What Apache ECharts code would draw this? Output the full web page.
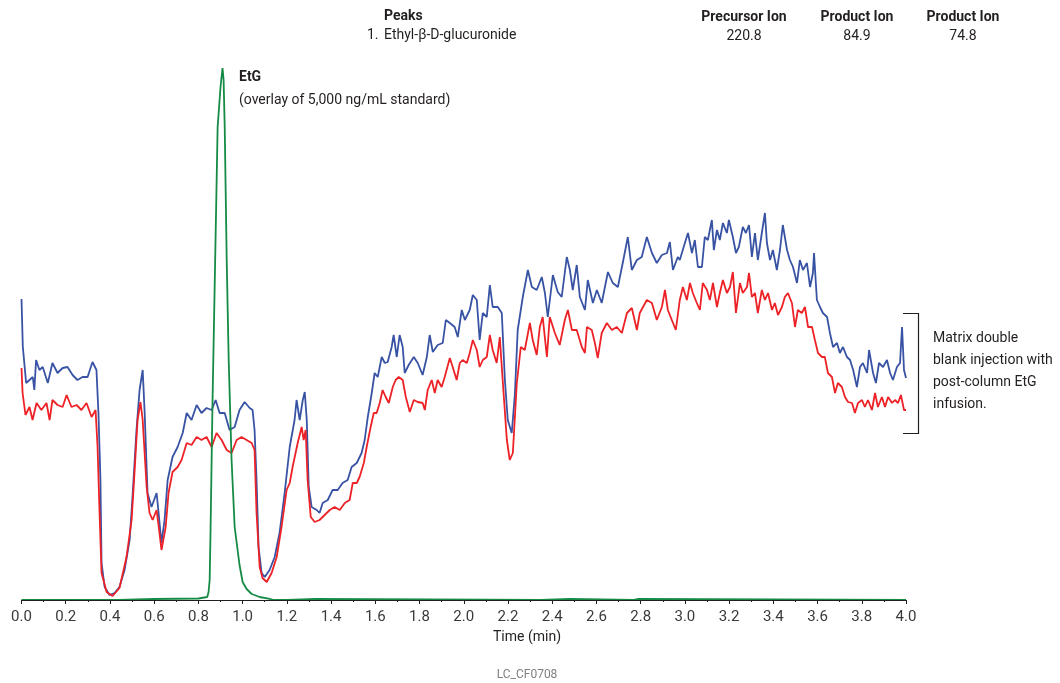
<!DOCTYPE html>
<html>
<head>
<meta charset="utf-8">
<script src="https://cdn.jsdelivr.net/npm/echarts@6/dist/echarts.min.js"></script>
<style>
html,body{margin:0;padding:0;background:#fff;}
#chart{width:1060px;height:683px;}
</style>
</head>
<body>
<div id="chart"></div>
<script>
// ---- Data (time in min, signal in arbitrary intensity units) ----
const xTicks = [0.0,0.2,0.4,0.6,0.8,1.0,1.2,1.4,1.6,1.8,2.0,2.2,2.4,2.6,2.8,3.0,3.2,3.4,3.6,3.8,4.0];

const blueTrace = [
[0.000,301],[0.006,253],[0.021,217],[0.036,220],[0.051,223],[0.058,210],[0.066,240],[0.081,230],[0.096,233],[0.119,217],[0.140,237],[0.163,227],[0.186,232],[0.208,233],[0.231,225],[0.253,220],[0.276,223],[0.299,223],[0.321,238],[0.339,230],[0.348,187],[0.357,120],[0.362,37],[0.376,13],[0.398,5],[0.421,7],[0.443,13],[0.466,30],[0.489,60],[0.502,103],[0.520,170],[0.534,210],[0.548,230],[0.557,187],[0.570,107],[0.588,93],[0.611,107],[0.620,87],[0.633,57],[0.647,80],[0.661,120],[0.683,143],[0.706,153],[0.729,167],[0.747,187],[0.769,180],[0.792,195],[0.814,187],[0.837,192],[0.860,190],[0.878,200],[0.896,187],[0.919,187],[0.941,170],[0.964,173],[0.986,190],[1.009,198],[1.032,192],[1.045,190],[1.054,170],[1.063,120],[1.072,53],[1.086,27],[1.100,23],[1.122,30],[1.145,43],[1.167,67],[1.190,107],[1.213,153],[1.235,180],[1.244,200],[1.258,180],[1.272,200],[1.281,208],[1.290,180],[1.299,113],[1.312,93],[1.335,90],
[1.348,87],[1.362,97],[1.385,100],[1.407,110],[1.430,110],[1.452,117],[1.475,120],[1.493,133],[1.516,137],[1.538,147],[1.552,160],[1.566,183],[1.584,207],[1.597,227],[1.611,223],[1.629,243],[1.643,237],[1.656,238],[1.674,253],[1.683,265],[1.697,243],[1.710,265],[1.724,253],[1.733,227],[1.751,235],[1.774,243],[1.792,237],[1.814,225],[1.833,243],[1.846,265],[1.860,248],[1.882,255],[1.905,257],[1.919,280],[1.937,277],[1.959,273],[1.973,263],[1.991,290],[2.005,280],[2.027,290],[2.041,305],[2.059,300],[2.072,260],[2.086,287],[2.104,283],[2.118,315],[2.131,293],[2.154,293],[2.172,287],[2.186,220],[2.199,180],[2.217,167],[2.231,205],
[2.244,270],[2.267,303],[2.290,330],[2.308,313],[2.330,310],[2.353,323],[2.367,307],[2.380,283],[2.403,325],[2.425,308],[2.443,303],[2.466,343],[2.480,330],[2.493,310],[2.511,335],[2.525,303],[2.548,290],[2.561,320],[2.584,297],[2.602,310],[2.624,297],[2.652,328],[2.674,317],[2.697,313],[2.719,337],[2.742,363],[2.760,330],[2.783,340],[2.805,343],[2.828,363],[2.851,347],[2.873,337],[2.896,345],[2.919,347],[2.932,358],[2.946,330],[2.968,343],
[2.977,340],[3.000,357],[3.014,367],[3.032,347],[3.045,360],[3.059,333],[3.077,333],[3.090,363],[3.104,360],[3.122,380],[3.131,350],[3.145,370],[3.158,360],[3.172,377],[3.190,367],[3.199,380],[3.217,363],[3.231,347],[3.244,353],[3.262,373],[3.276,367],[3.290,375],[3.303,343],[3.317,367],[3.330,340],[3.348,367],[3.362,387],[3.371,357],[3.385,340],[3.398,350],[3.416,330],[3.430,350],[3.443,375],[3.462,350],[3.475,340],[3.489,333],[3.507,317],[3.520,340],[3.534,330],[3.552,337],[3.566,313],[3.579,327],[3.584,347],[3.597,300],[3.611,293],[3.624,287],[3.643,283],[3.656,267],[3.670,253],[3.688,257],[3.701,247],[3.715,253],[3.733,243],[3.747,240],[3.761,230],[3.778,213],[3.792,233],[3.805,237],[3.824,227],[3.833,250],[3.851,227],[3.864,217],[3.878,237],[3.896,233],[3.914,240],[3.928,227],[3.941,220],[3.959,233],[3.973,237],[3.982,273],[3.991,230],[4.000,222]
];

const redTrace = [
[0.000,232],[0.005,207],[0.018,185],[0.036,193],[0.050,180],[0.068,197],[0.090,190],[0.113,197],[0.127,180],[0.140,200],[0.163,195],[0.186,193],[0.204,205],[0.226,193],[0.249,195],[0.271,190],[0.294,197],[0.317,183],[0.335,190],[0.344,153],[0.353,87],[0.362,27],[0.385,8],[0.412,4],[0.443,12],[0.475,43],[0.498,80],[0.511,127],[0.525,180],[0.538,198],[0.548,180],[0.566,113],[0.579,87],[0.593,80],[0.611,90],[0.624,67],[0.633,50],[0.652,73],[0.665,107],[0.683,128],[0.706,133],[0.724,140],[0.747,157],[0.769,155],[0.792,163],[0.814,160],[0.837,163],[0.860,153],[0.882,167],[0.905,160],[0.928,150],[0.950,147],[0.973,160],[0.995,163],[1.018,160],[1.041,157],[1.054,150],[1.063,87],[1.077,33],[1.090,22],[1.109,18],[1.131,27],[1.154,43],[1.176,73],[1.199,110],[1.213,117],[1.226,133],[1.249,157],[1.267,173],[1.276,160],[1.285,170],[1.294,120],[1.308,83],[1.326,78],
[1.348,80],[1.371,85],[1.394,90],[1.416,93],[1.439,90],[1.462,97],[1.484,100],[1.498,117],[1.516,117],[1.529,123],[1.548,137],[1.561,153],[1.579,173],[1.593,187],[1.606,187],[1.620,197],[1.633,210],[1.647,203],[1.661,197],[1.679,213],[1.692,220],[1.706,223],[1.724,220],[1.738,203],[1.756,188],[1.774,200],[1.792,198],[1.814,197],[1.824,190],[1.837,210],[1.855,220],[1.869,207],[1.882,220],[1.900,213],[1.914,223],[1.937,242],[1.950,233],[1.968,220],[1.982,237],[1.995,240],[2.014,237],[2.027,247],[2.041,260],[2.059,250],[2.072,233],[2.086,240],[2.104,243],[2.118,265],[2.131,250],[2.149,237],[2.163,263],
[2.176,220],[2.195,160],[2.208,140],[2.222,147],[2.240,217],[2.258,253],[2.276,250],[2.299,277],[2.312,260],[2.330,245],[2.344,273],[2.357,283],[2.376,243],[2.389,283],[2.412,267],[2.434,255],[2.457,280],[2.471,290],[2.489,270],[2.511,270],[2.534,253],[2.548,247],[2.557,273],[2.579,270],[2.593,257],[2.606,242],[2.624,267],[2.647,277],[2.670,270],[2.692,273],[2.715,267],[2.738,287],[2.760,292],[2.783,270],[2.796,287],[2.828,300],[2.851,297],[2.873,280],[2.896,293],[2.910,310],[2.923,290],[2.941,280],[2.959,270],
[2.977,300],[2.991,313],[3.009,300],[3.023,317],[3.036,307],[3.054,297],[3.068,290],[3.081,317],[3.100,310],[3.113,300],[3.127,317],[3.145,293],[3.158,307],[3.172,320],[3.190,307],[3.204,313],[3.217,328],[3.231,287],[3.249,317],[3.262,307],[3.281,313],[3.290,327],[3.303,303],[3.317,307],[3.330,287],[3.348,310],[3.362,300],[3.376,307],[3.394,290],[3.407,297],[3.421,285],[3.439,293],[3.452,303],[3.466,307],[3.484,297],[3.498,273],[3.511,290],[3.529,287],[3.543,293],[3.557,273],[3.575,273],[3.588,260],[3.602,247],[3.620,243],[3.633,243],[3.647,227],[3.665,223],[3.679,207],[3.692,217],[3.710,213],[3.724,203],[3.738,198],[3.756,197],[3.769,187],[3.783,197],[3.801,200],[3.814,193],[3.828,200],[3.846,190],[3.860,207],[3.873,193],[3.891,203],[3.905,193],[3.919,203],[3.937,197],[3.950,200],[3.964,197],[3.977,205],[3.991,190],[4.000,190]
];

// EtG standard overlay; baseline mostly sits on (and is hidden by) the axis line
const greenTrace = [
[0.000,0],[0.440,0],[0.445,1],[0.60,1],[0.80,1.5],[0.840,3],[0.846,8],[0.851,20],[0.855,70],[0.864,200],[0.873,307],[0.887,473],[0.900,513],[0.909,532],[0.914,520],[0.919,473],[0.928,340],[0.937,240],[0.950,140],[0.964,73],[0.986,35],[1.000,18],[1.018,11],[1.041,6],[1.077,3],[1.122,1.2],[1.140,0],[1.200,0],[1.205,1],[1.330,1],[1.335,0],[2.350,0],[2.355,1],[2.480,1],[2.485,0],[2.770,0],[2.775,1],[2.790,1],[2.795,0],[4.000,0]
];

const headerPeaks = 'Peaks';
const peakNo = '1.';
const peakName = 'Ethyl-\u03B2-D-glucuronide';
const ionHeaders = ['Precursor Ion','Product Ion','Product Ion'];
const ionValues = ['220.8','84.9','74.8'];

// ---- Chart ----
const FONT = 'Roboto, "Open Sans", sans-serif';
const TXT = '#231f20';
const chart = echarts.init(document.getElementById('chart'), null, {renderer:'canvas'});

const ionX = [744, 857, 963];
const graphics = [
  {type:'text', left:384, top:9, style:{text:headerPeaks, font:'bold 14px '+FONT, fill:TXT}},
  {type:'text', left:367, top:28, style:{text:peakNo, font:'14px '+FONT, fill:TXT}},
  {type:'text', left:384, top:28, style:{text:peakName, font:'14px '+FONT, fill:TXT}},
  {type:'text', left:239, top:70, style:{text:'EtG', font:'bold 14px '+FONT, fill:TXT}},
  {type:'text', left:239, top:93, style:{text:'(overlay of 5,000 ng/mL standard)', font:'14px '+FONT, fill:TXT}},
  {type:'text', left:933, top:327, style:{text:'Matrix double\nblank injection with\npost-column EtG\ninfusion.', font:'14px '+FONT, fill:TXT, lineHeight:22}},
  {type:'polyline', shape:{points:[[903,313.5],[918.5,313.5],[918.5,433.5],[903,433.5]]}, style:{stroke:TXT, lineWidth:1.2, fill:null}},
  {type:'text', x:527, y:637, style:{text:'Time (min)', font:'14px '+FONT, fill:TXT, textAlign:'center', textVerticalAlign:'middle'}},
  {type:'text', x:527, y:675, style:{text:'LC_CF0708', font:'12px '+FONT, fill:'#808080', textAlign:'center', textVerticalAlign:'middle'}}
];
ionHeaders.forEach((h,i)=>{
  graphics.push({type:'text', x:ionX[i], y:17, style:{text:h, font:'bold 14px '+FONT, fill:TXT, textAlign:'center', textVerticalAlign:'middle'}});
  graphics.push({type:'text', x:ionX[i], y:36, style:{text:ionValues[i], font:'14px '+FONT, fill:TXT, textAlign:'center', textVerticalAlign:'middle'}});
});

chart.setOption({
  animation:false,
  backgroundColor:'#fff',
  grid:{left:21.5, right:154, top:60, bottom:83, containLabel:false},
  xAxis:{
    type:'value', min:0, max:4, interval:0.2, z:10,
    axisLine:{show:true, onZero:false, lineStyle:{color:TXT, width:1}},
    axisTick:{show:true, length:4, lineStyle:{color:TXT, width:1}},
    minorTick:{show:true, splitNumber:2, length:2, lineStyle:{color:TXT, width:1}},
    splitLine:{show:false},
    axisLabel:{fontFamily:FONT, fontSize:15, color:'#3a3a3a', margin:10,
      formatter:(v)=>v.toFixed(1)}
  },
  yAxis:{type:'value', min:0, max:540, show:false, splitLine:{show:false}},
  series:[
    {type:'line', data:blueTrace, showSymbol:false, symbol:'none', lineStyle:{color:'#3953a4', width:1.8}, z:2},
    {type:'line', data:redTrace, showSymbol:false, symbol:'none', lineStyle:{color:'#ed2226', width:1.8}, z:3},
    {type:'line', data:greenTrace, showSymbol:false, symbol:'none', lineStyle:{color:'#168b45', width:1.8}, z:4}
  ],
  graphic:graphics
});
</script>
</body>
</html>
